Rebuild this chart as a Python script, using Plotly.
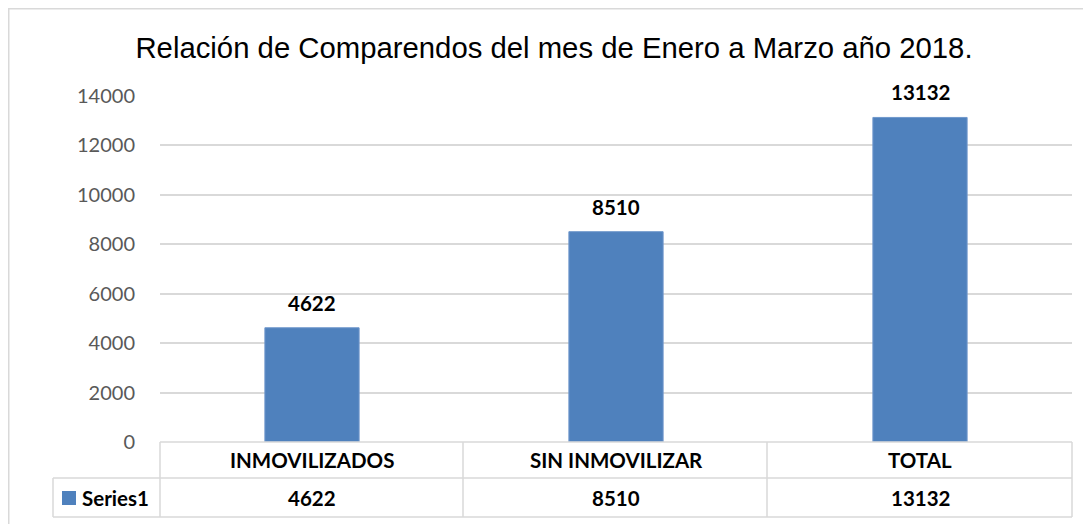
import plotly.graph_objects as go

categories = ["INMOVILIZADOS", "SIN INMOVILIZAR", "TOTAL"]
values = [4622, 8510, 13132]
series_name = "Series1"
y_ticks = [0, 2000, 4000, 6000, 8000, 10000, 12000, 14000]

BLUE = "#4F81BD"
GRID = "#D9D9D9"
OFF = 8  # page body margin around the plot div
W, H = 1091 - OFF, 524 - OFF
# plot area, in screenshot pixels
L, R, T, B = 160, 1072, 96, 442


def px(x):
    return (x - L) / (R - L)


def py(y):
    return (B - y) / (B - T)


fig = go.Figure()
fig.add_trace(go.Bar(x=categories, y=values, name=series_name, width=0.31,
                     marker=dict(color=BLUE, line=dict(color="#6F97CC", width=1))))

# data labels above bars
for c, v in zip(categories, values):
    fig.add_annotation(x=c, y=v, text="<b>%d</b>" % v, showarrow=False, yanchor="bottom",
                       yshift=11, font=dict(family="Lato", size=20.5, color="#000000"))

# data table below the plot
line = dict(color=GRID, width=1.5)
shapes = [
    dict(type="line", xref="paper", yref="paper", x0=px(L), x1=px(R), y0=py(442), y1=py(442), line=line),
    dict(type="line", xref="paper", yref="paper", x0=px(53), x1=px(R), y0=py(478), y1=py(478), line=line),
    dict(type="line", xref="paper", yref="paper", x0=px(53), x1=px(R), y0=py(517), y1=py(517), line=line),
    dict(type="line", xref="paper", yref="paper", x0=px(53), x1=px(53), y0=py(478), y1=py(517), line=line),
]
for xv in [160, 463, 767, 1072]:
    shapes.append(dict(type="line", xref="paper", yref="paper", x0=px(xv), x1=px(xv),
                       y0=py(442), y1=py(517), line=line))
# legend key square
shapes.append(dict(type="rect", xref="paper", yref="paper", x0=px(62), x1=px(76), y0=py(491), y1=py(505),
                   fillcolor=BLUE, line=dict(width=0)))
# outer chart frame
shapes.append(dict(type="rect", xref="paper", yref="paper", x0=px(OFF + 0.75), x1=px(1110),
                   y0=py(OFF + 0.75), y1=py(560), line=dict(color=GRID, width=1.5)))

for c, v in zip(categories, values):
    fig.add_annotation(x=c, y=py(460), yref="paper", yanchor="middle", text="<b>%s</b>" % c,
                       showarrow=False, font=dict(family="Lato", size=20.5, color="#000000"))
    fig.add_annotation(x=c, y=py(497.5), yref="paper", yanchor="middle", text="<b>%d</b>" % v,
                       showarrow=False, font=dict(family="Lato", size=20.5, color="#000000"))
fig.add_annotation(x=px(80), y=py(497.5), xref="paper", yref="paper", xanchor="left", yanchor="middle",
                   text="<b>%s</b>" % series_name, showarrow=False,
                   font=dict(family="Lato", size=20.5, color="#000000"))

fig.update_layout(
    width=W, height=H,
    margin=dict(l=L - OFF, r=W - (R - OFF), t=T - OFF, b=H - (B - OFF)),
    paper_bgcolor="white", plot_bgcolor="white",
    showlegend=False,
    shapes=shapes,
    title=dict(text="Relación de Comparendos del mes de Enero a Marzo año 2018.",
               x=(554 - OFF) / W, xanchor="center", y=1 - (48 - OFF) / H, yanchor="middle",
               font=dict(family="Liberation Sans", size=29.3, color="#000000")),
    xaxis=dict(showticklabels=False, showgrid=False, zeroline=False, showline=False),
    yaxis=dict(range=[0, 14000], tickvals=y_ticks, tickformat="d", showgrid=True, gridcolor=GRID,
               gridwidth=1.5, zeroline=False, showline=False, ticklabelstandoff=24, automargin=False,
               tickfont=dict(family="Lato", size=20, color="#595959")),
)

fig.write_html("out.html")
